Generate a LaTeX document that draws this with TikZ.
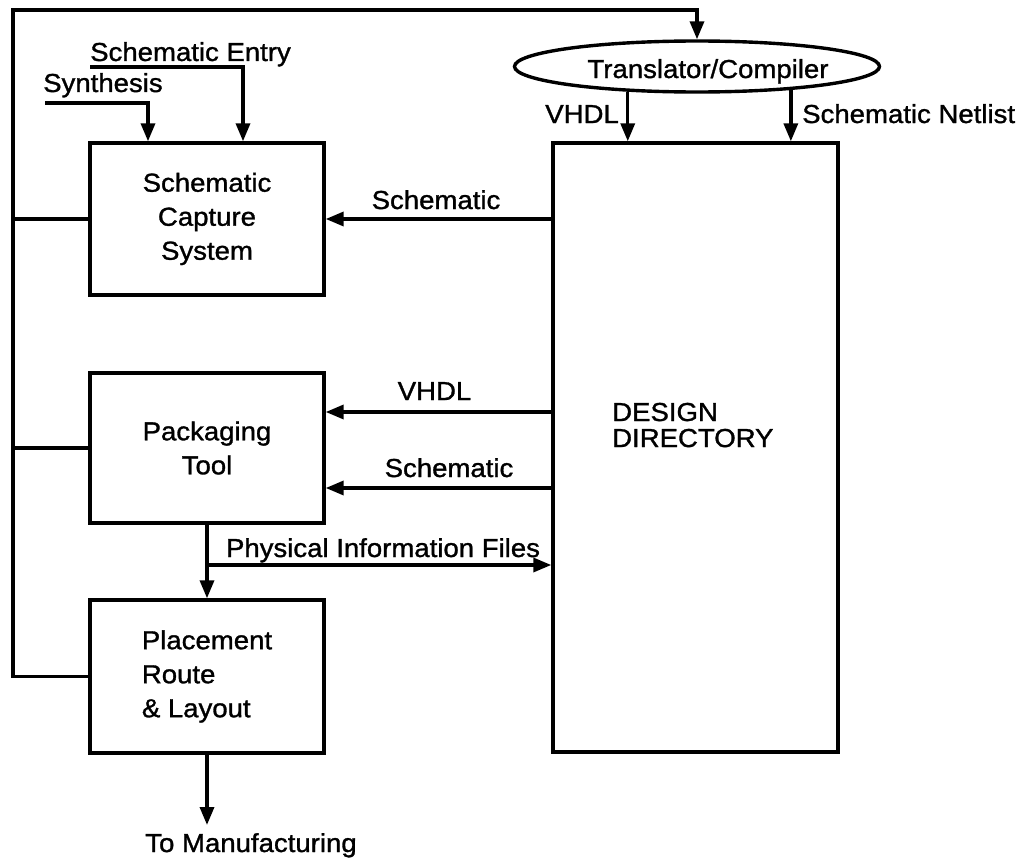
\documentclass[tikz,border=0pt]{standalone}
\usepackage{fontspec}
\setmainfont{Liberation Sans}[FakeStretch=1.06,FakeBold=1.2]
\usetikzlibrary{arrows.meta,shapes.geometric}
\begin{document}
\begin{tikzpicture}[x=1pt,y=-1pt,
  ln/.style={line width=3.4pt},
  arr/.style={ln,-{Triangle[length=18pt,width=14pt]}},
  box/.style={draw,ln,rectangle,inner sep=0pt,font=\fontsize{26}{34}\selectfont},
  lbl/.style={inner sep=0pt,font=\fontsize{26}{30}\selectfont}]
\useasboundingbox (0,0) rectangle (1018,859);
% boxes
\node[box,minimum width=234pt,minimum height=152pt,align=center] (sc) at (207,219) {Schematic\\Capture\\System};
\node[box,minimum width=234pt,minimum height=150pt,align=center] (pk) at (207,448) {Packaging\\Tool};
\node[box,minimum width=234pt,minimum height=153pt,align=left] (pl) at (207,676.5) {Placement\\Route\\\& Layout};
\node[box,minimum width=285pt,minimum height=609pt] (dd) at (695.5,447.5) {};
\node[ellipse,draw,ln,fill=white,minimum width=365pt,minimum height=51pt,inner sep=0pt] (tc) at (697,66.5) {};
% labels
\node[lbl,anchor=base] (tct) at (708,78) {Translator/Compiler};
\node[lbl,anchor=base west] (ddl1) at (612,421) {DESIGN};
\node[lbl,anchor=base west] (ddl2) at (612,447) {DIRECTORY};
\node[lbl,anchor=base west] (synl) at (43,92) {Synthesis};
\node[lbl,anchor=base west] (sel) at (90,61) {Schematic Entry};
\node[lbl,anchor=base east] (v1) at (619,123) {VHDL};
\node[lbl,anchor=base west] (snl) at (802,123) {Schematic Netlist};
\node[lbl,anchor=base] (s1) at (436,209) {Schematic};
\node[lbl,anchor=base] (v2) at (434.5,400) {VHDL};
\node[lbl,anchor=base] (s2) at (449,477) {Schematic};
\node[lbl,anchor=base] (pif) at (383,557) {Physical Information Files};
\node[lbl,anchor=base] (mf) at (251,852) {To Manufacturing};
% coordinates
\coordinate (lt) at (13,10);
\coordinate (syn) at (45,103);
\coordinate (se) at (90,67);
\coordinate (yv) at (0,412);
\coordinate (ys) at (0,488);
\coordinate (yp) at (0,565);
\coordinate (mfa) at (207,825);
% connectors
\draw[arr] (pl.west) -| (lt) -| (tc.north);
\draw[ln] (sc.west) -- (sc.west -| lt);
\draw[ln] (pk.west) -- (pk.west -| lt);
\draw[arr] (syn) -| ([xshift=-59pt]sc.north);
\draw[arr] (se) -| ([xshift=36pt]sc.north);
\draw[arr] (tc.200) -- (tc.200 |- dd.north);
\draw[arr] (tc.346) -- (tc.346 |- dd.north);
\draw[arr] (dd.west |- sc.east) -- (sc.east);
\draw[arr] (dd.west |- yv) -- (pk.east |- yv);
\draw[arr] (dd.west |- ys) -- (pk.east |- ys);
\draw[arr] (pk.south) -- (pl.north);
\draw[arr] (pk.south |- yp) -- (dd.west |- yp);
\draw[arr] (pl.south) -- (mfa);
\end{tikzpicture}
\end{document}
